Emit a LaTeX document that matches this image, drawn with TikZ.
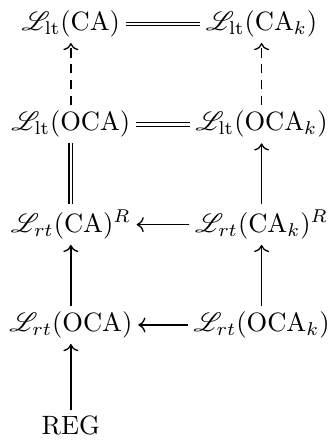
\documentclass[tikz,border=0pt]{standalone}
\usepackage{amsmath}
\usepackage{mathrsfs}
\usetikzlibrary{positioning,arrows.meta}

\begin{document}
\begin{tikzpicture}[node distance=1.331cm and 2.53cm, on grid,
    lang/.style={inner sep=2pt},
    arrow/.style={-To,line width=0.5pt},
    dasharrow/.style={-To,line width=0.5pt,dash pattern=on 3.5pt off 2.5pt},
    equal/.style={double,double distance=1pt}]
  \useasboundingbox (-0.94,0.318) rectangle (3.41,-5.572);
  \node[lang] (ltca) {$\mathscr{L}_{\mathrm{lt}}(\mathrm{CA})$};
  \node[lang,right=of ltca] (ltcak) {$\mathscr{L}_{\mathrm{lt}}(\mathrm{CA}_k)$};
  \node[lang,below=of ltca] (ltoca) {$\mathscr{L}_{\mathrm{lt}}(\mathrm{OCA})$};
  \node[lang,below=of ltcak] (ltocak) {$\mathscr{L}_{\mathrm{lt}}(\mathrm{OCA}_k)$};
  \node[lang,below=of ltoca] (rtca) {$\mathscr{L}_{rt}(\mathrm{CA})^R$};
  \node[lang,below=of ltocak] (rtcak) {$\mathscr{L}_{rt}(\mathrm{CA}_k)^R$};
  \node[lang,below=of rtca] (rtoca) {$\mathscr{L}_{rt}(\mathrm{OCA})$};
  \node[lang,below=of rtcak] (rtocak) {$\mathscr{L}_{rt}(\mathrm{OCA}_k)$};
  \node[lang,below=of rtoca] (reg) {$\mathrm{REG}$};

  \draw[equal] (ltca) -- (ltcak);
  \draw[equal] (ltoca) -- (ltocak);
  \draw[equal] (ltoca) -- (rtca);
  \draw[dasharrow] (ltoca) -- (ltca);
  \draw[dasharrow] (ltocak) -- (ltcak);
  \draw[arrow] (rtcak) -- (ltocak);
  \draw[arrow] (rtcak) -- (rtca);
  \draw[arrow] (rtoca) -- (rtca);
  \draw[arrow] (rtocak) -- (rtcak);
  \draw[arrow] (rtocak) -- (rtoca);
  \draw[arrow] (reg) -- (rtoca);
\end{tikzpicture}
\end{document}
